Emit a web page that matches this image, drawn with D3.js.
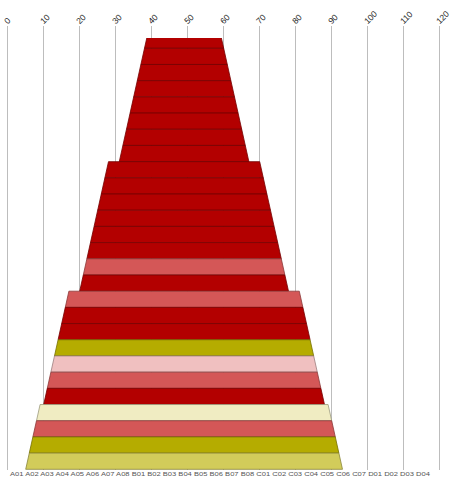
<!DOCTYPE html>
<html>
<head>
<meta charset="utf-8">
<script src="https://cdn.jsdelivr.net/npm/d3@7"></script>
<style>
	body { margin: 0; background: #fff; }
	svg { display: block; font-family: "Liberation Sans", Arial, sans-serif; }
</style>
</head>
<body>
<div id="chart"></div>
<script>
// rows, top to bottom
var categories = ["A01", "A02", "A03", "A04", "A05", "A06", "A07", "A08",
	"B01", "B02", "B03", "B04", "B05", "B06", "B07", "B08",
	"C01", "C02", "C03", "C04", "C05", "C06", "C07",
	"D01", "D02", "D03", "D04"];

// width of each row at its top edge and bottom edge
var topWidth = [20, 22, 24, 26, 28, 30, 32, 34,
	42, 44, 46, 48, 50, 52, 54, 56,
	64, 66, 68, 70, 72, 74, 76,
	80, 82, 84, 86];
var bottomWidth = [22, 24, 26, 28, 30, 32, 34, 36,
	44, 46, 48, 50, 52, 54, 56, 58,
	66, 68, 70, 72, 74, 76, 78,
	82, 84, 86, 88];

var rowColor = ["#b30000", "#b30000", "#b30000", "#b30000", "#b30000", "#b30000", "#b30000", "#b30000",
	"#b30000", "#b30000", "#b30000", "#b30000", "#b30000", "#b30000", "#d45757", "#b30000",
	"#d45757", "#b30000", "#b30000", "#b5ac00", "#f0c0c0", "#d45757", "#b30000",
	"#f0ecc2", "#d45757", "#b5ac00", "#d2cc5a"];

var centre = 49.1;
var xTicks = [0, 10, 20, 30, 40, 50, 60, 70, 80, 90, 100, 110, 120];

var width = 452,
	height = 477;

var svg = d3.select("#chart")
	.append("svg")
	.attr("width", width)
	.attr("height", height);

var x = d3.scaleLinear()
	.domain([0, 120])
	.range([7.33, 439.33]);

var y = d3.scaleBand()
	.domain(categories)
	.range([32.1, 469.3])
	.padding(0);

// grid lines
svg.append("g")
	.selectAll("line")
	.data(xTicks)
	.enter()
	.append("line")
	.attr("x1", function(d) { return Math.round(x(d)) + 0.5; })
	.attr("x2", function(d) { return Math.round(x(d)) + 0.5; })
	.attr("y1", 26)
	.attr("y2", 470)
	.style("stroke", "#bdbdbd")
	.style("stroke-width", 1);

// top tick labels, rotated
svg.append("g")
	.selectAll("text")
	.data(xTicks)
	.enter()
	.append("text")
	.attr("transform", function(d) {
		return "translate(" + (x(d) + 0.3) + ",24.5)rotate(-45)";
	})
	.attr("text-anchor", "start")
	.style("font-size", "8.5px")
	.style("fill", "#222")
	.text(function(d) { return d; });

svg.append("clipPath")
	.attr("id", "plotclip")
	.append("rect")
	.attr("x", 0)
	.attr("y", 38)
	.attr("width", width)
	.attr("height", 440);

// trapezoid rows
svg.append("g")
	.attr("clip-path", "url(#plotclip)")
	.selectAll("path")
	.data(categories)
	.enter()
	.append("path")
	.attr("d", function(d, i) {
		var y0 = y(d),
			y1 = y(d) + y.bandwidth();
		return "M" + x(centre - topWidth[i] / 2) + "," + y0 +
			"L" + x(centre + topWidth[i] / 2) + "," + y0 +
			"L" + x(centre + bottomWidth[i] / 2) + "," + y1 +
			"L" + x(centre - bottomWidth[i] / 2) + "," + y1 + "Z";
	})
	.style("fill", function(d, i) { return rowColor[i]; })
	.style("stroke", function(d, i) { return d3.color(rowColor[i]).darker(1.2); })
	.style("stroke-width", 0.8);

// squeezed category strip at the bottom
svg.append("text")
	.attr("x", 10)
	.attr("y", 475.5)
	.attr("textLength", 420)
	.attr("lengthAdjust", "spacingAndGlyphs")
	.style("font-size", "5.5px")
	.style("fill", "#555")
	.text(categories.join(" "));
</script>
</body>
</html>
